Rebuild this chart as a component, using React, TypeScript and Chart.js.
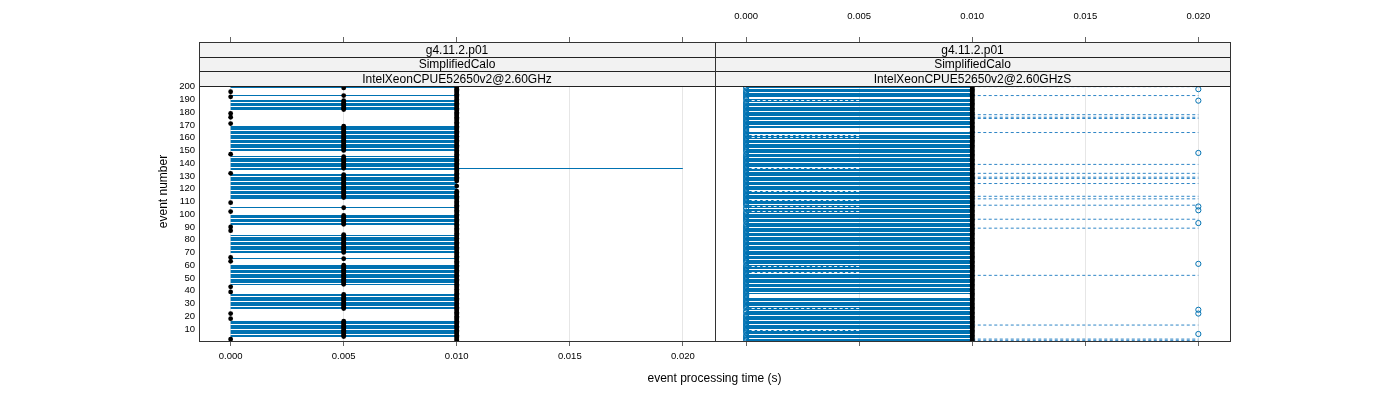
import React, { useEffect, useRef } from "react";
import { Chart, registerables } from "chart.js";

Chart.register(...registerables);

// ---------- texts ----------
const stripVersion = "g4.11.2.p01";
const stripTest = "SimplifiedCalo";
const panelMachines = ["IntelXeonCPUE52650v2@2.60GHz", "IntelXeonCPUE52650v2@2.60GHzS"];
const xTitleText = "event processing time (s)";
const yTitleText = "event number";

// ---------- ticks ----------
const timeTicks = [0, 0.005, 0.01, 0.015, 0.02];
const eventTicks = [10, 20, 30, 40, 50, 60, 70, 80, 90, 100, 110, 120, 130, 140, 150, 160, 170, 180, 190, 200];

// ---------- time levels (s) ----------
const tZero = 0;
const tHalf = 0.005;
const tFull = 0.01;
const tLong = 0.02;

// ---------- left panel (IntelXeonCPUE52650v2@2.60GHz) ----------
// events drawn with a solid line from 0 to 0.010 s (runs of event numbers)
const leftLineRuns = [[4, 16], [26, 37], [45, 60], [65, 65], [70, 83], [92, 99], [105, 105], [112, 131], [135, 135], [137, 145], [150, 169], [182, 189], [193, 193], [199, 200]];
// events whose line reaches 0.020 s
const leftLongLineEvents = [136];
// events with a dot at 0.000 s
const leftZeroDotEvents = [2, 18, 22, 39, 43, 63, 66, 87, 90, 102, 109, 132, 147, 171, 176, 179, 192, 196];
// events with a dot at 0.005 s
const leftHalfDotRuns = [[4, 16], [26, 37], [45, 60], [65, 65], [70, 84], [92, 99], [105, 105], [113, 131], [136, 145], [150, 169], [182, 189], [193, 193], [199, 199]];
// events with a dot at 0.010 s
const leftFullDotRuns = [[1, 118], [122, 122], [126, 200]];

// ---------- right panel (IntelXeonCPUE52650v2@2.60GHzS) ----------
const rightLineRuns = [[1, 34], [38, 164], [168, 190], [192, 200]];
const rightShortDashEvents = [9, 26, 54, 59, 102, 106, 111, 118, 136, 160, 162, 189];
const rightLongDashEvents = [1, 2, 13, 52, 89, 96, 107, 112, 114, 124, 128, 129, 132, 139, 164, 175, 176, 178, 193, 200];
const rightHighCircleEvents = [6, 22, 25, 61, 93, 103, 106, 148, 189, 198];
const rightZeroCircleRuns = [[1, 5], [7, 21], [23, 24], [26, 60], [62, 92], [94, 102], [104, 105], [107, 147], [149, 188], [190, 197], [199, 200]];
const rightFullDotRuns = [[1, 200]];

// ---------- helpers ----------
const expandRuns = (runs: number[][]) =>
  runs.flatMap(([a, b]) => Array.from({ length: b - a + 1 }, (_, i) => a + i));

const segments = (events: number[], x0: number, x1: number) =>
  events.flatMap((e) => [
    { x: x0, y: e },
    { x: x1, y: e },
    { x: null, y: null },
  ]);

const dots = (events: number[], x: number) => events.map((e) => ({ x, y: e }));

const FONT = '"Liberation Sans", Arial, Helvetica, sans-serif';
const BLUE = "#0072B2";
const TIME_MIN = -0.0014;
const TIME_MAX = 0.0214;
const EVENT_MIN = 0.5;
const EVENT_TOP = 200.5;
const EVENT_MAX = 235;

const tickFont = { family: FONT, size: 9.5 };

const timeAxis = (position: string, stack: string, showLabels: boolean, gridOnArea: boolean, height: number) => ({
  type: "linear",
  position,
  stack,
  stackWeight: 1,
  min: TIME_MIN,
  max: TIME_MAX,
  afterBuildTicks: (s: any) => {
    s.ticks = timeTicks.map((v) => ({ value: v }));
  },
  afterFit: (s: any) => {
    s.height = height;
  },
  ticks: {
    display: showLabels,
    callback: (v: any) => Number(v).toFixed(3),
    font: tickFont,
    color: "#000",
    padding: position === "top" ? 15 : 5,
    maxRotation: 0,
    autoSkip: false,
  },
  grid: {
    display: true,
    drawOnChartArea: gridOnArea,
    drawTicks: true,
    tickLength: 5,
    color: "#e6e6e6",
    tickColor: "#666",
    lineWidth: 1,
    tickWidth: 1,
  },
  border: { display: false },
});

// snap the solid event lines onto the pixel grid (crisp 1px lines like the original)
const crispLinesPlugin = {
  id: "crispLines",
  afterDatasetsUpdate(chart: any) {
    chart.data.datasets.forEach((ds: any, i: number) => {
      if (!ds.crisp) return;
      const meta = chart.getDatasetMeta(i);
      meta.data.forEach((el: any) => {
        if (Number.isFinite(el.y)) el.y = Math.round(el.y - 0.5) + 0.5;
      });
    });
  },
};

const panelPlugin = {
  id: "latticePanels",
  afterDraw(chart: any) {
    const { ctx, chartArea } = chart;
    const yScale = chart.scales.y;
    const stripBottom = Math.round(yScale.getPixelForValue(EVENT_TOP));
    const top = Math.round(chartArea.top);
    const bottom = Math.round(chartArea.bottom);
    const h = (stripBottom - top) / 3;
    ["x1", "x2"].forEach((id, i) => {
      const s = chart.scales[id];
      const left = Math.round(s.left);
      const right = Math.round(s.right);
      const labels = [stripVersion, stripTest, panelMachines[i]];
      ctx.save();
      labels.forEach((t, k) => {
        const y0 = Math.round(top + k * h);
        const y1 = Math.round(top + (k + 1) * h);
        ctx.fillStyle = "#f2f2f2";
        ctx.fillRect(left, y0, right - left, y1 - y0);
        ctx.strokeStyle = "#222";
        ctx.lineWidth = 1;
        ctx.strokeRect(left + 0.5, y0 + 0.5, right - left, y1 - y0);
        ctx.fillStyle = "#000";
        ctx.font = `12px ${FONT}`;
        ctx.textAlign = "center";
        ctx.textBaseline = "middle";
        ctx.fillText(t, (left + right) / 2, (y0 + y1) / 2 + 1);
      });
      ctx.strokeStyle = "#333";
      ctx.lineWidth = 1;
      ctx.strokeRect(left + 0.5, top + 0.5, right - left, bottom - top);
      ctx.restore();
    });
  },
};

export default function App() {
  const ref = useRef<HTMLCanvasElement | null>(null);

  useEffect(() => {
    if (!ref.current) return;

    const lineDs = (label: string, data: any[], xAxisID: string, extra: any = {}) => ({
      label,
      data,
      xAxisID,
      yAxisID: "y",
      showLine: true,
      spanGaps: false,
      borderColor: BLUE,
      borderWidth: 1,
      pointRadius: 0,
      pointHoverRadius: 0,
      order: 6,
      crisp: true,
      ...extra,
    });

    const dotDs = (label: string, data: any[], xAxisID: string, extra: any = {}) => ({
      label,
      data,
      xAxisID,
      yAxisID: "y",
      showLine: false,
      pointRadius: 2.4,
      pointHoverRadius: 2.4,
      pointBackgroundColor: "#000",
      pointBorderWidth: 0,
      order: 2,
      ...extra,
    });

    const circleDs = (label: string, data: any[], xAxisID: string) => ({
      label,
      data,
      xAxisID,
      yAxisID: "y",
      showLine: false,
      pointRadius: 2.6,
      pointHoverRadius: 2.6,
      pointBackgroundColor: "rgba(0,0,0,0)",
      pointBorderColor: BLUE,
      pointBorderWidth: 1,
      order: 1,
    });

    const datasets: any[] = [
      // left panel
      lineDs("left lines", segments(expandRuns(leftLineRuns), tZero, tFull), "x1"),
      lineDs("left long line", segments(leftLongLineEvents, tZero, tLong), "x1"),
      dotDs("left 0.000", dots(leftZeroDotEvents, tZero), "x1"),
      dotDs("left 0.005", dots(expandRuns(leftHalfDotRuns), tHalf), "x1"),
      dotDs("left 0.010", dots(expandRuns(leftFullDotRuns), tFull), "x1"),
      // right panel
      lineDs("right lines", segments(expandRuns(rightLineRuns), tZero, tFull), "x2"),
      lineDs("right short dashed", segments(rightShortDashEvents, tZero, tHalf), "x2", {
        borderColor: "rgba(255,255,255,0.9)",
        borderDash: [3, 2.5],
        order: 5,
      }),
      lineDs("right long dashed", segments(rightLongDashEvents, tFull, tLong), "x2", {
        borderColor: "#2f86c6",
        borderDash: [3, 2.5],
        order: 5,
        crisp: false,
      }),
      dotDs("right 0.010", dots(expandRuns(rightFullDotRuns), tFull), "x2"),
      circleDs("right 0.000", dots(expandRuns(rightZeroCircleRuns), tZero), "x2"),
      circleDs("right 0.020", dots(rightHighCircleEvents, tLong), "x2"),
    ];

    const chart = new Chart(ref.current, {
      type: "scatter",
      data: { datasets },
      plugins: [crispLinesPlugin, panelPlugin],
      options: {
        responsive: false,
        animation: false,
        events: [],
        layout: { padding: { left: 152, right: 170, top: 0, bottom: 0 } },
        plugins: {
          legend: { display: false },
          tooltip: { enabled: false },
          title: { display: false },
        },
        scales: {
          y: {
            type: "linear",
            position: "left",
            min: EVENT_MIN,
            max: EVENT_MAX,
            afterBuildTicks: (s: any) => {
              s.ticks = eventTicks.map((v) => ({ value: v }));
            },
            afterFit: (s: any) => {
              s.width = 47;
            },
            ticks: { font: tickFont, color: "#000", padding: 4, autoSkip: false },
            grid: { display: false, drawTicks: false },
            border: { display: false },
            title: {
              display: true,
              text: yTitleText,
              font: { family: FONT, size: 12 },
              color: "#000",
              padding: { top: 4, bottom: 0 },
            },
          },
          x1: timeAxis("bottom", "bottomStack", true, true, 24),
          x2: timeAxis("bottom", "bottomStack", false, true, 24),
          // top boxes are laid out right-to-left: xt1 ends up over the right panel
          xt1: timeAxis("top", "topStack", true, false, 42),
          xt2: timeAxis("top", "topStack", false, false, 42),
          xTitle: {
            type: "linear",
            position: "bottom",
            weight: 1,
            min: 0,
            max: 1,
            ticks: { display: false },
            grid: { display: false, drawTicks: false },
            border: { display: false },
            afterFit: (s: any) => {
              s.height = 35;
            },
            title: {
              display: true,
              text: xTitleText,
              font: { family: FONT, size: 12 },
              color: "#000",
              padding: { top: 0, bottom: 14 },
            },
          },
        } as any,
      },
    } as any);

    return () => chart.destroy();
  }, []);

  return (
    <div style={{ position: "absolute", left: 0, top: 0, width: 1400, height: 400, background: "#fff" }}>
      <canvas ref={ref} width={1400} height={400} style={{ width: 1400, height: 400, display: "block" }} />
    </div>
  );
}
